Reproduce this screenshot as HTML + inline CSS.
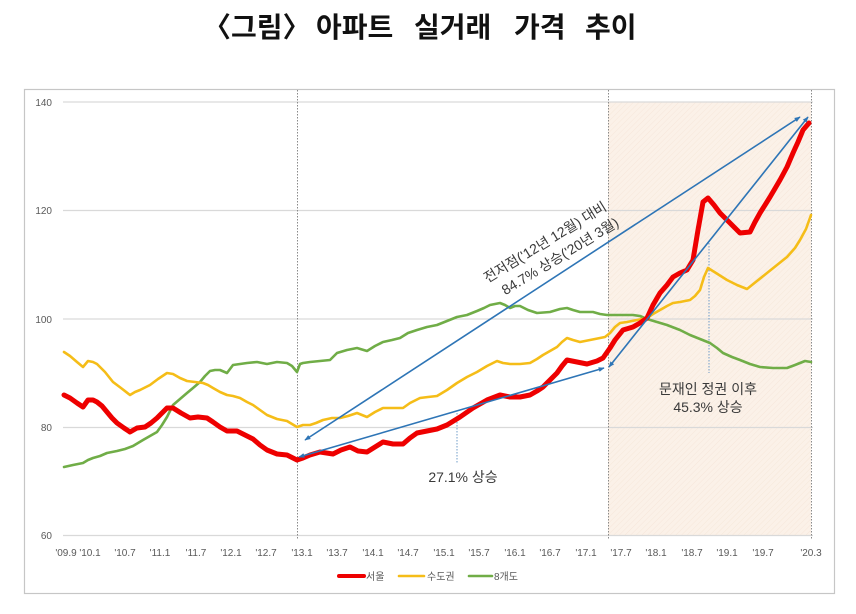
<!DOCTYPE html>
<html><head><meta charset="utf-8">
<style>
html,body{margin:0;padding:0;background:#fff;}
svg{display:block;}
</style></head>
<body>
<svg width="856" height="614" viewBox="0 0 856 614" xmlns="http://www.w3.org/2000/svg">
<defs>
<pattern id="hatch" width="4" height="4" patternUnits="userSpaceOnUse" patternTransform="rotate(45)">
<rect width="4" height="4" fill="#fbf1e8"/>
<line x1="0" y1="0" x2="0" y2="4" stroke="#f6e7da" stroke-width="1"/>
</pattern>
<marker id="ah" viewBox="0 0 10 10" refX="9" refY="5" markerWidth="6" markerHeight="6" orient="auto-start-reverse" markerUnits="userSpaceOnUse">
<path d="M0,1 L10,5 L0,9 Z" fill="#2e75b6"/>
</marker>
</defs>

<!-- title -->
<g font-family="'Noto Sans CJK KR','NanumGothic',sans-serif" font-weight="bold" font-size="28" fill="#111">
<text x="203" y="37">〈그림〉</text>
<text x="316" y="37">아파트</text>
<text x="414" y="37">실거래</text>
<text x="514" y="37">가격</text>
<text x="585" y="37">추이</text>
</g>

<!-- frame -->
<rect x="24.5" y="89.5" width="810" height="504" fill="#fff" stroke="#c6c6c6" stroke-width="1.2"/>

<!-- shaded region -->
<rect x="608" y="102" width="203" height="433" fill="url(#hatch)"/>

<!-- gridlines -->
<g stroke="#d9d9d9" stroke-width="1.2">
<line x1="63" y1="102" x2="813" y2="102"/>
<line x1="63" y1="210.5" x2="813" y2="210.5"/>
<line x1="63" y1="319" x2="813" y2="319"/>
<line x1="63" y1="427.5" x2="813" y2="427.5"/>
<line x1="63" y1="535.5" x2="813" y2="535.5"/>
</g>

<!-- vertical dotted lines -->
<g stroke="#8a8a8a" stroke-width="1" stroke-dasharray="1.5,1.5">
<line x1="297.5" y1="90" x2="297.5" y2="540"/>
<line x1="608.5" y1="90" x2="608.5" y2="540"/>
<line x1="811.5" y1="90" x2="811.5" y2="540"/>
</g>
<g stroke="#6f9cc8" stroke-width="1" stroke-dasharray="1.5,1.5">
<line x1="709" y1="243" x2="709" y2="373"/>
<line x1="457" y1="413" x2="457" y2="463"/>
</g>

<!-- y labels -->
<g font-family="'Liberation Sans',sans-serif" font-size="10" fill="#595959" text-anchor="end">
<text x="52" y="106">140</text>
<text x="52" y="214">120</text>
<text x="52" y="323">100</text>
<text x="52" y="431">80</text>
<text x="52" y="539">60</text>
</g>

<!-- x labels -->
<g font-family="'Liberation Sans',sans-serif" font-size="10" fill="#595959" text-anchor="middle">
<text x="66" y="556">'09.9</text>
<text x="90" y="556">'10.1</text>
<text x="125" y="556">'10.7</text>
<text x="160" y="556">'11.1</text>
<text x="196" y="556">'11.7</text>
<text x="231" y="556">'12.1</text>
<text x="266" y="556">'12.7</text>
<text x="302" y="556">'13.1</text>
<text x="337" y="556">'13.7</text>
<text x="373" y="556">'14.1</text>
<text x="408" y="556">'14.7</text>
<text x="444" y="556">'15.1</text>
<text x="479" y="556">'15.7</text>
<text x="515" y="556">'16.1</text>
<text x="550" y="556">'16.7</text>
<text x="586" y="556">'17.1</text>
<text x="621" y="556">'17.7</text>
<text x="656" y="556">'18.1</text>
<text x="692" y="556">'18.7</text>
<text x="727" y="556">'19.1</text>
<text x="763" y="556">'19.7</text>
<text x="811" y="556">'20.3</text>
</g>

<!-- series: green -->
<polyline fill="none" stroke="#70ad47" stroke-width="2.6" stroke-linejoin="round" stroke-linecap="round"
points="64,467 73,465 83,463 88,460 93,458 100,456 107,453 117,451 125,449 133,446 138,443 143,440 150,436 157,432 162,425 167,417 170,411 173,405 180,399 187,393 193,388 200,382 205,376 210,371 215,370 220,370 227,373 233,365 240,364 247,363 257,362 262,363 267,364 272,363 277,362 287,363 292,366 297,372 300,364 303,363 310,362 320,361 330,360 337,353 347,350 357,348 367,351 375,346 383,342 392,340 400,338 408,333 417,330 427,327 437,325 447,321 457,317 467,315 477,311 484,308 490,305 500,303 505,305 510,308 515,306 520,306 528,310 537,313 550,312 560,309 567,308 573,310 580,312 593,312 600,314 607,315 620,315 633,315 640,316 647,319 657,322 667,325 680,330 690,335 700,339 710,343 717,348 723,353 732,357 740,360 750,364 760,367 773,368 787,368 795,365 800,363 805,361 811,362"/>

<!-- series: yellow -->
<polyline fill="none" stroke="#f5bd18" stroke-width="2.6" stroke-linejoin="round" stroke-linecap="round"
points="64,352 70,356 77,362 83,367 88,361 93,362 97,364 105,372 113,382 121,388 130,395 135,392 140,390 150,385 158,379 167,373 173,374 180,378 187,381 195,382 203,383 208,385 213,388 220,392 227,395 233,396 240,398 247,402 253,405 260,410 267,415 277,419 287,421 297,427 303,425 310,425 316,423 323,420 332,418 340,418 348,416 357,413 367,417 375,412 383,408 393,408 403,408 410,403 420,398 428,397 437,396 447,390 457,383 467,377 477,372 487,366 497,361 503,363 510,364 520,364 530,363 537,359 543,355 550,351 557,347 562,342 567,338 573,340 580,342 590,340 600,338 605,337 610,333 615,327 620,323 627,322 637,320 647,318 653,314 660,310 667,306 673,303 680,302 690,300 695,296 700,290 704,277 708,268 716,273 727,280 737,285 747,289 757,281 767,273 777,265 787,257 795,248 800,240 806,229 811,215"/>

<!-- series: red -->
<polyline fill="none" stroke="#ee0000" stroke-width="5" stroke-linejoin="round" stroke-linecap="round"
points="64,395 70,398 77,403 83,407 88,400 93,400 97,402 102,406 107,412 112,418 117,423 124,428 130,432 137,428 145,427 151,423 157,418 162,413 167,408 173,408 181,413 190,418 198,417 207,418 213,422 220,427 227,431 237,431 245,435 253,439 260,445 267,450 277,454 287,455 297,460 303,458 310,455 320,452 333,454 341,450 350,447 358,451 367,452 375,447 383,442 393,444 403,444 410,438 417,433 427,431 437,429 447,425 460,417 473,408 487,400 500,395 510,397 520,397 530,395 537,391 543,387 550,380 557,373 562,366 567,360 577,362 587,364 597,361 603,358 610,348 615,340 623,330 633,327 640,323 647,318 653,305 660,293 667,285 673,277 680,273 687,270 693,260 698,230 703,202 708,198 714,205 720,213 730,223 740,233 750,232 755,222 760,213 770,197 780,180 787,167 793,153 798,142 803,130 809,123"/>

<!-- arrows -->
<g stroke="#2e75b6" stroke-width="1.6" fill="none">
<line x1="305" y1="440" x2="800" y2="117" marker-start="url(#ah)" marker-end="url(#ah)"/>
<line x1="299" y1="457" x2="604" y2="368" marker-start="url(#ah)" marker-end="url(#ah)"/>
<line x1="609" y1="367" x2="808" y2="117" marker-start="url(#ah)" marker-end="url(#ah)"/>
</g>

<!-- annotations -->
<g font-family="'Liberation Sans','Noto Sans CJK KR',sans-serif" font-size="14" fill="#3a3a3a" text-anchor="middle">
<g transform="translate(545,242) rotate(-31.5)">
<text x="0" y="5">전저점('12년 12월) 대비</text>
</g>
<g transform="translate(560,256) rotate(-31.5)">
<text x="0" y="5">84.7% 상승('20년 3월)</text>
</g>
<text x="708" y="394">문재인 정권 이후</text>
<text x="708" y="412">45.3% 상승</text>
<text x="463" y="482">27.1% 상승</text>
</g>

<!-- legend -->
<g stroke-width="4" stroke-linecap="round">
<line x1="339" y1="576" x2="364" y2="576" stroke="#ee0000"/>
<line x1="399" y1="576" x2="424" y2="576" stroke="#f5bd18" stroke-width="2.6"/>
<line x1="469" y1="576" x2="492" y2="576" stroke="#70ad47" stroke-width="2.6"/>
</g>
<g font-family="'Liberation Sans','Noto Sans CJK KR',sans-serif" font-size="10" fill="#595959">
<text x="366" y="580">서울</text>
<text x="427" y="580">수도권</text>
<text x="494" y="580">8개도</text>
</g>
</svg>
</body></html>
